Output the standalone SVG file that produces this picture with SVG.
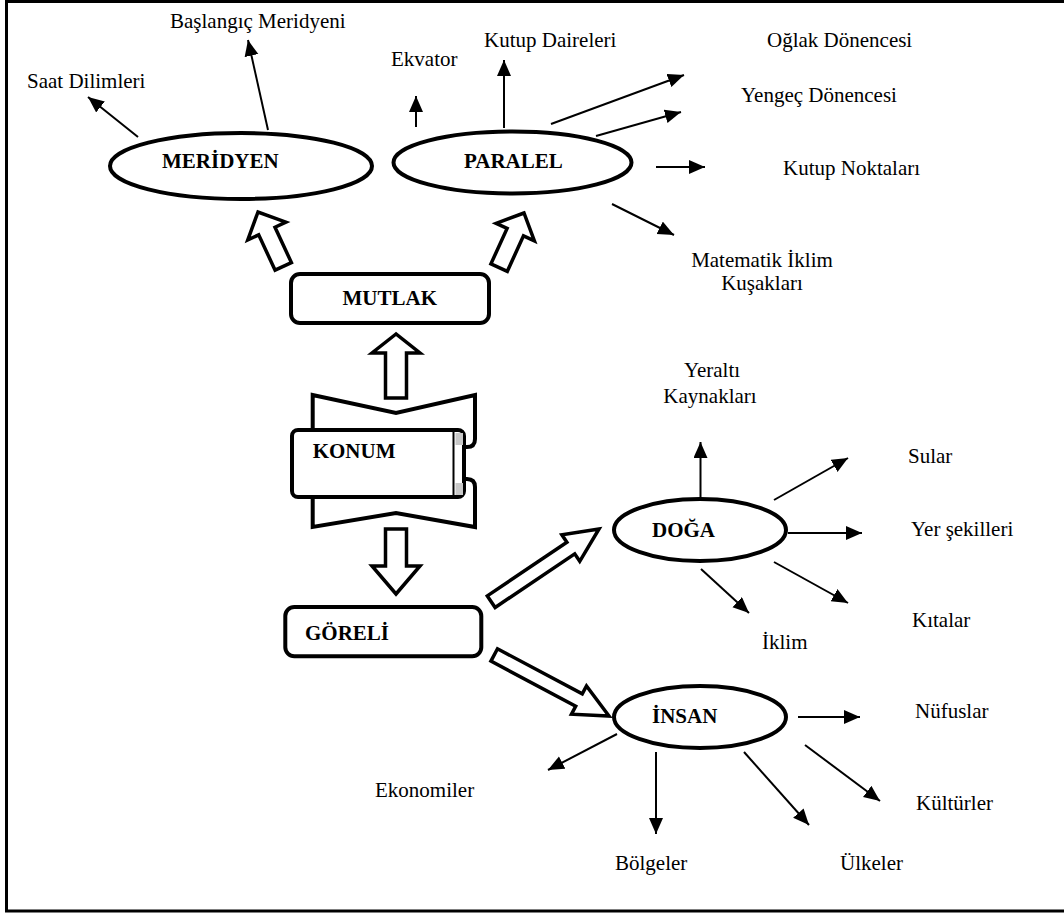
<svg xmlns="http://www.w3.org/2000/svg" width="1064" height="913" viewBox="0 0 1064 913">
<defs>
<marker id="ah" markerUnits="userSpaceOnUse" markerWidth="18" markerHeight="16" refX="16" refY="7" orient="auto">
<path d="M0,0 L16,7 L0,14 Z" fill="#000"/>
</marker>
<style>
text{font-family:"Liberation Serif","Times New Roman",serif;font-size:21px;fill:#000}
.b{font-weight:bold}
.m{text-anchor:middle}
.node{fill:#fff;stroke:#000;stroke-width:4}
.hol{fill:#fff;stroke:#000;stroke-width:3.5;stroke-linejoin:miter}
.con line{stroke:#000;stroke-width:2;marker-end:url(#ah)}
</style>
</defs>
<rect x="0" y="0" width="1064" height="913" fill="#fff"/>
<g id="frame" fill="none" stroke="#000" stroke-width="3">
<path d="M1070,1.5 L6.5,1.5 L6.5,911 L1070,911"/>
</g>

<g id="connectors" class="con">
<line x1="138" y1="137" x2="88" y2="97"/>
<line x1="268" y1="130" x2="248" y2="40"/>
<line x1="416" y1="127" x2="416" y2="96"/>
<line x1="504" y1="128" x2="504" y2="60"/>
<line x1="551" y1="124" x2="684" y2="75"/>
<line x1="596" y1="136" x2="681" y2="112"/>
<line x1="656" y1="167" x2="705" y2="167"/>
<line x1="612" y1="204" x2="674" y2="235"/>
<line x1="700.5" y1="498" x2="700.5" y2="442"/>
<line x1="774" y1="500" x2="848" y2="458"/>
<line x1="788" y1="533" x2="862" y2="533"/>
<line x1="774" y1="562" x2="848" y2="603"/>
<line x1="701" y1="569" x2="749" y2="613"/>
<line x1="798" y1="717" x2="860" y2="717"/>
<line x1="617" y1="734" x2="548" y2="770"/>
<line x1="656" y1="752" x2="656" y2="834"/>
<line x1="744" y1="752" x2="809" y2="825"/>
<line x1="805" y1="745" x2="880" y2="801"/>
</g>

<g id="hollow-arrows">
<path class="hol" transform="translate(258,212) rotate(-114.9)" d="M0,0 L-21,-21 L-21,-9 L-60,-9 L-60,9 L-21,9 L-21,21 Z"/>
<path class="hol" transform="translate(524,213) rotate(-65.5)" d="M0,0 L-21,-21 L-21,-9 L-60,-9 L-60,9 L-21,9 L-21,21 Z"/>
<path class="hol" stroke-width="4" transform="translate(396,334) rotate(-90)" d="M0,0 L-19,-24 L-19,-10.5 L-64,-10.5 L-64,10.5 L-19,10.5 L-19,24 Z"/>
<path class="hol" stroke-width="4" transform="translate(396,594) rotate(90)" d="M0,0 L-28,-24 L-28,-10.5 L-65,-10.5 L-65,10.5 L-28,10.5 L-28,24 Z"/>
<path class="hol" transform="translate(599,529) rotate(-34)" d="M0,0 L-34,-16 L-34,-7 L-130,-7 L-130,7 L-34,7 L-34,16 Z"/>
<path class="hol" transform="translate(609,716) rotate(28)" d="M0,0 L-34,-16 L-34,-7 L-130,-7 L-130,7 L-34,7 L-34,16 Z"/>
</g>

<g id="meridyen">
<ellipse class="node" cx="241" cy="166" rx="131" ry="33"/>
<text class="b" x="162" y="168">MERİDYEN</text>
</g>
<g id="paralel">
<ellipse class="node" cx="512.5" cy="162.5" rx="119" ry="31"/>
<text class="b" x="464" y="168">PARALEL</text>
</g>
<g id="mutlak">
<rect class="node" x="291" y="274" width="198" height="49" rx="9"/>
<text class="b" x="342.5" y="305">MUTLAK</text>
</g>
<g id="konum">
<path class="node" d="M312.7,432 L312.7,395 L396,413 L475,395 L475,439 Q475,447 467,447 L462,447"/>
<path class="node" d="M312.7,494 L312.7,527 L396,513 L475,527 L475,487 Q475,479 467,479 L462,479"/>
<rect class="node" x="292" y="430" width="172" height="67" rx="6"/>
<rect x="455.5" y="433" width="7.5" height="12" fill="#c8c8c8"/>
<rect x="455.5" y="483" width="7.5" height="12" fill="#c8c8c8"/>
<line x1="453.5" y1="430" x2="453.5" y2="497" stroke="#000" stroke-width="2"/>
<text class="b" x="312.7" y="458">KONUM</text>
</g>
<g id="goreli">
<rect class="node" x="285.3" y="607" width="196" height="49.3" rx="9"/>
<text class="b" x="305" y="640">GÖRELİ</text>
</g>
<g id="doga">
<ellipse class="node" cx="700" cy="530" rx="86" ry="31"/>
<text class="b" x="652" y="537">DOĞA</text>
</g>
<g id="insan">
<ellipse class="node" cx="700" cy="717" rx="86" ry="31"/>
<text class="b" x="652" y="723">İNSAN</text>
</g>

<g id="labels">
<text x="27" y="88">Saat Dilimleri</text>
<text x="170" y="28">Başlangıç Meridyeni</text>
<text x="391" y="66">Ekvator</text>
<text x="484" y="47">Kutup Daireleri</text>
<text x="767" y="47">Oğlak Dönencesi</text>
<text x="741" y="102">Yengeç Dönencesi</text>
<text x="783" y="175">Kutup Noktaları</text>
<text class="m" x="762" y="267">Matematik İklim</text>
<text class="m" x="762" y="290">Kuşakları</text>
<text class="m" x="712" y="377">Yeraltı</text>
<text class="m" x="710" y="403">Kaynakları</text>
<text x="908" y="463">Sular</text>
<text x="911" y="536">Yer şekilleri</text>
<text x="912" y="627">Kıtalar</text>
<text x="762" y="649">İklim</text>
<text x="915" y="718">Nüfuslar</text>
<text x="375" y="797">Ekonomiler</text>
<text x="615" y="870">Bölgeler</text>
<text x="840" y="870">Ülkeler</text>
<text x="916" y="810">Kültürler</text>
</g>
</svg>
